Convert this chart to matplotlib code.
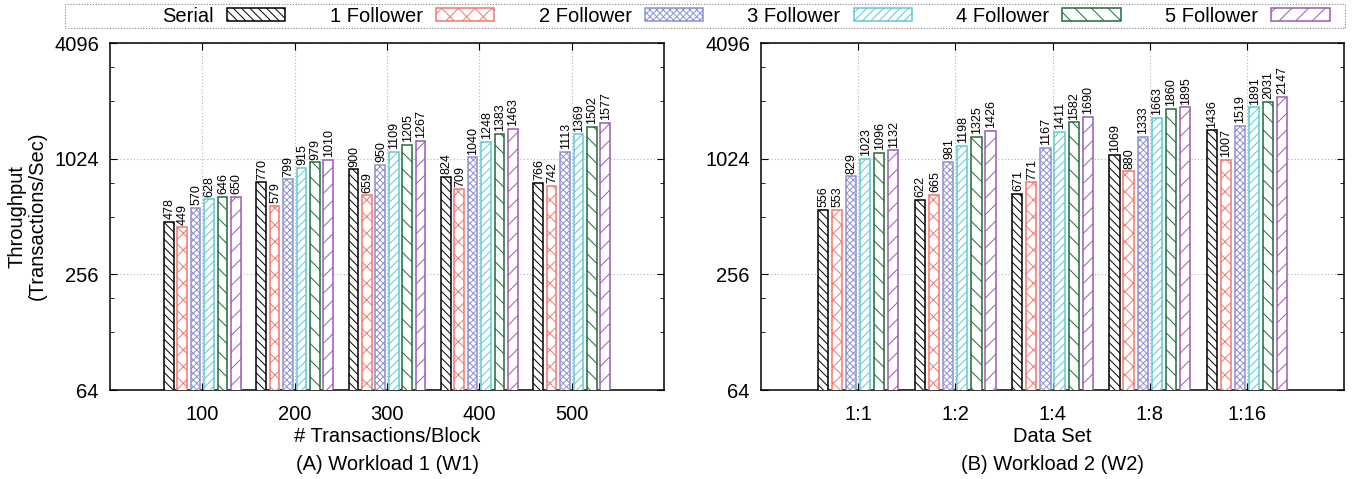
import numpy as np
import matplotlib
matplotlib.use("Agg")
import matplotlib.pyplot as plt
from matplotlib.patches import Patch, Rectangle
from matplotlib.ticker import FixedLocator, LogLocator, NullFormatter

plt.rcParams['font.family'] = ['Liberation Sans', 'DejaVu Sans']
plt.rcParams['hatch.linewidth'] = 0.7

series = ['Serial', '1 Follower', '2 Follower', '3 Follower', '4 Follower', '5 Follower']
colors = ['#000000', '#f4766c', '#8e90d6', '#5ccad4', '#1f6b38', '#9c58b5']
hatches = ['\\\\\\\\', 'xx', 'xxxxx', '////', '\\\\', '//']

# Workload 1: throughput vs transactions per block
w1_cats = ['100', '200', '300', '400', '500']
w1_serial = [478, 770, 900, 824, 766]
w1_f1 = [449, 579, 659, 709, 742]
w1_f2 = [570, 799, 950, 1040, 1113]
w1_f3 = [628, 915, 1109, 1248, 1369]
w1_f4 = [646, 979, 1205, 1383, 1502]
w1_f5 = [650, 1010, 1267, 1463, 1577]

# Workload 2: throughput vs data set
w2_cats = ['1:1', '1:2', '1:4', '1:8', '1:16']
w2_serial = [556, 622, 671, 1069, 1436]
w2_f1 = [553, 665, 771, 880, 1007]
w2_f2 = [829, 981, 1167, 1333, 1519]
w2_f3 = [1023, 1198, 1411, 1663, 1891]
w2_f4 = [1096, 1325, 1582, 1860, 2031]
w2_f5 = [1132, 1426, 1690, 1895, 2147]

yticks = [64, 256, 1024, 4096]

W, H = 1352, 479
fig = plt.figure(figsize=(W / 100, H / 100), dpi=100)


def draw_panel(rect, cats, data, xlabel, title):
    ax = fig.add_axes([rect[0] / W, 1 - rect[3] / H, (rect[2] - rect[0]) / W, (rect[3] - rect[1]) / H])
    ax.set_yscale('log', base=2)
    x = np.arange(len(cats))
    slot, bw = 0.145, 0.105
    for i, vals in enumerate(data):
        pos = x + (i - 2.5) * slot
        ax.bar(pos, vals, width=bw, facecolor='white', edgecolor=colors[i],
               hatch=hatches[i], linewidth=1.1, zorder=3)
        for p, v in zip(pos, vals):
            ax.annotate(str(v), (p, v), xytext=(0.5, 2), textcoords='offset points',
                        rotation=90, ha='center', va='bottom', fontsize=9)
    ax.set_xlim(-1, 5)
    ax.set_ylim(64, 4096)
    ax.yaxis.set_major_locator(FixedLocator(yticks))
    ax.set_yticklabels([str(t) for t in yticks])
    ax.yaxis.set_minor_locator(LogLocator(base=4, subs=(2, 3)))
    ax.yaxis.set_minor_formatter(NullFormatter())
    ax.set_xticks(x)
    ax.set_xticklabels(cats)
    ax.tick_params(axis='both', which='both', direction='in', top=True, right=True, labelsize=14.5)
    ax.tick_params(axis='y', which='major', length=5, pad=8)
    ax.tick_params(axis='y', which='minor', length=3)
    ax.tick_params(axis='x', which='major', length=5, pad=11)
    ax.grid(True, which='major', linestyle=(0, (1, 2)), color='#b5b5b5', linewidth=0.8, zorder=0)
    for s in ax.spines.values():
        s.set_linewidth(1.1)
    cx = (rect[0] + rect[2]) / 2 / W
    fig.text(cx, 1 - 437 / H, xlabel, ha='center', va='center', fontsize=14.5)
    fig.text(cx, 1 - 465 / H, title, ha='center', va='center', fontsize=14.5)
    return ax


draw_panel((110, 43, 664, 390), w1_cats,
           [w1_serial, w1_f1, w1_f2, w1_f3, w1_f4, w1_f5],
           '# Transactions/Block', '(A) Workload 1 (W1)')
draw_panel((761, 43, 1344, 390), w2_cats,
           [w2_serial, w2_f1, w2_f2, w2_f3, w2_f4, w2_f5],
           'Data Set', '(B) Workload 2 (W2)')

fig.text(27 / W, 1 - 216 / H, 'Throughput\n(Transactions/Sec)', rotation=90,
         ha='center', va='center', fontsize=14.5, linespacing=1.1)

# legend across the top
handles = [Patch(facecolor='white', edgecolor=c, hatch=h, linewidth=1.1) for c, h in zip(colors, hatches)]
fig.legend(handles, series, loc='center', bbox_to_anchor=(746 / W, 1 - 16 / H), ncol=6,
           frameon=False, markerfirst=False, fontsize=14.5, handlelength=2.9,
           handleheight=0.6, handletextpad=0.65, columnspacing=2.2, borderpad=0, borderaxespad=0)
fig.patches.append(Rectangle((65 / W, 1 - 28 / H), 1280 / W, 24 / H, transform=fig.transFigure,
                             fill=False, linestyle=(0, (1, 1.5)), edgecolor='#888888', linewidth=0.8))

fig.savefig('out.png', dpi=100)
